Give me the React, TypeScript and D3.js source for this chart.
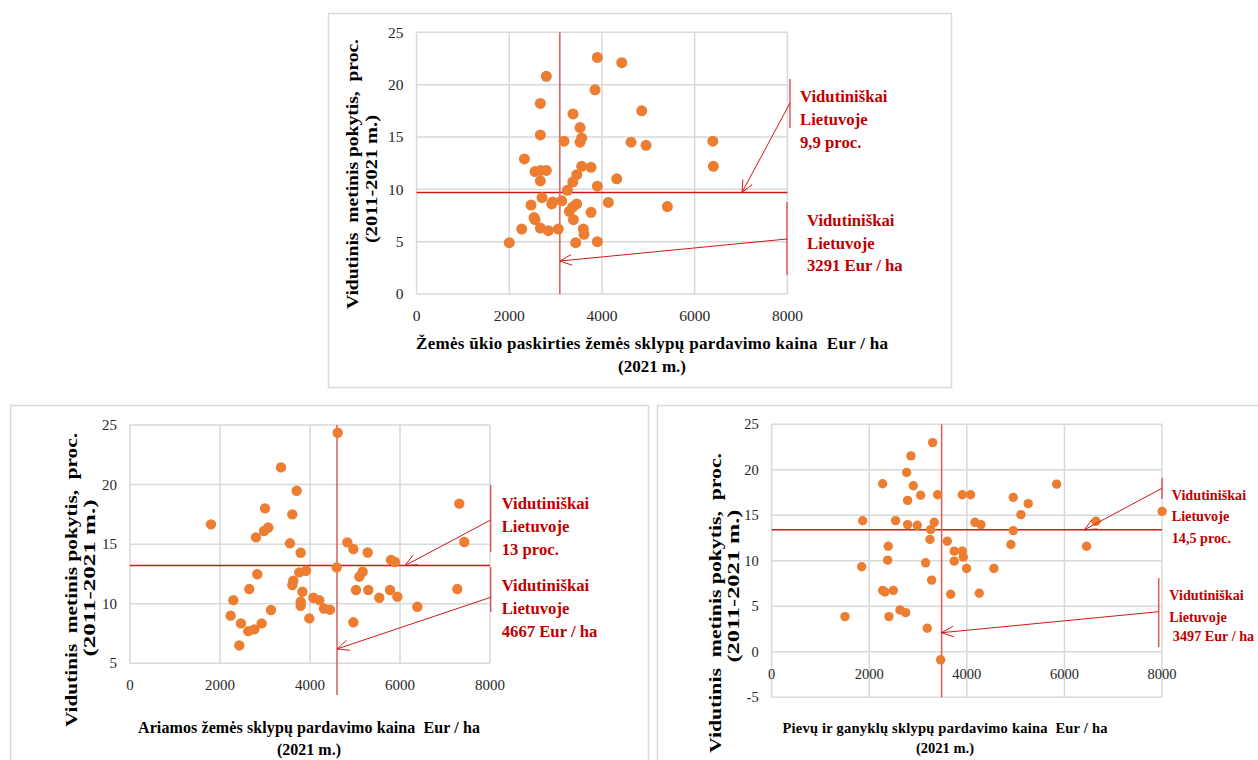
import React from 'react';
import * as d3 from 'd3';

// price (Eur/ha, 2021) vs mean annual change (%, 2011-2021), one point per municipality
const farmPoints: [number, number][] = [
  [3899, 22.6], [4426, 22.1], [2799, 20.8], [3850, 19.5], [2670, 18.2], [3375, 17.2], [4857, 17.5],
  [3526, 15.9], [2670, 15.2], [3181, 14.6], [3526, 14.5], [3562, 14.9], [4627, 14.5], [4950, 14.2],
  [6390, 14.6], [6403, 12.2], [2325, 12.9], [2555, 11.7], [2678, 11.8], [2799, 11.8], [3562, 12.2],
  [3763, 12.1], [3455, 11.4], [3369, 10.7], [2670, 10.8], [3253, 9.9], [3899, 10.3], [4318, 11.0],
  [2469, 8.5], [2706, 9.2], [2915, 8.6], [2937, 8.8], [3131, 8.9], [3455, 8.6], [3369, 8.3],
  [3295, 7.9], [3382, 7.1], [2534, 7.3], [2555, 7.1], [2268, 6.2], [2670, 6.3], [2843, 6.05],
  [3058, 6.2], [3598, 6.2], [3613, 5.7], [2000, 4.9], [3433, 4.9], [3899, 5.0], [4137, 8.75],
  [5410, 8.35], [3763, 7.8],
];

const arablePoints: [number, number][] = [
  [1800, 16.66], [3000, 18.0], [2800, 15.57], [2978, 16.1], [3073, 16.4], [2829, 12.47], [2296, 10.3],
  [2237, 9.0], [2464, 8.35], [2629, 7.7], [2762, 7.85], [2926, 8.35], [2429, 6.5], [2651, 11.23],
  [3133, 9.47], [4615, 24.35], [3355, 21.44], [3704, 19.48], [3607, 17.5], [3555, 15.07], [3793, 14.28],
  [4829, 15.15], [4963, 14.59], [5282, 14.3], [5800, 13.67], [5888, 13.5], [7318, 18.4], [7429, 15.18],
  [4593, 13.05], [3761, 12.63], [3911, 12.77], [3630, 11.93], [3607, 11.57], [3830, 11.0], [3793, 10.17],
  [3793, 9.83], [4074, 10.5], [4207, 10.3], [4311, 9.6], [4444, 9.5], [3985, 8.77], [5096, 12.27],
  [5170, 12.68], [5022, 11.15], [5296, 11.15], [5540, 10.5], [5778, 11.15], [5940, 10.59], [6385, 9.75],
  [4963, 8.44], [7274, 11.23],
];

const pasturePoints: [number, number][] = [
  [1865, 14.4], [2274, 18.47], [2854, 21.53], [2766, 19.7], [2902, 18.25], [2786, 16.64], [2540, 14.42],
  [2786, 13.98], [2984, 13.9], [2389, 11.6], [2377, 10.07], [1844, 9.35], [3053, 17.2], [2274, 6.75],
  [2322, 6.57], [2492, 6.75], [1502, 3.87], [2404, 3.87], [2629, 4.6], [2746, 4.3], [3299, 22.99],
  [3401, 17.26], [3906, 17.26], [4077, 17.26], [5840, 18.43], [4951, 16.97], [5258, 16.28], [5108, 15.07],
  [8003, 15.43], [6645, 14.34], [4166, 14.23], [4289, 13.98], [3332, 14.23], [3258, 13.43], [3244, 12.34],
  [3599, 12.15], [3742, 11.06], [3906, 11.06], [3927, 10.4], [3742, 9.96], [4951, 13.32], [4903, 11.79],
  [6454, 11.6], [3155, 9.78], [3995, 9.16], [4555, 9.16], [3278, 7.88], [3668, 6.32], [4254, 6.43],
  [3189, 2.59], [3463, -0.88],
];

const priceTicks = [0, 2000, 4000, 6000, 8000];
const farmPctTicks = [0, 5, 10, 15, 20, 25];
const arablePctTicks = [5, 10, 15, 20, 25];
const pasturePctTicks = [-5, 0, 5, 10, 15, 20, 25];

// national averages as drawn: [price, pct]
const farmAvg = [3090, 9.7];
const arableAvg = [4600, 13.2];
const pastureAvg = [3483, 13.4];

// where the annotation arrows point: [price on pct line, pct on price line]
const farmArrowTo = [7020, 3.15];
const arableArrowTo = [6110, 6.2];
const pastureArrowTo = [6405, 2.1];

const farmPctLabel = ['Vidutiniškai', 'Lietuvoje', '9,9 proc.'];
const farmPriceLabel = ['Vidutiniškai', 'Lietuvoje', '3291 Eur / ha'];
const arablePctLabel = ['Vidutiniškai', 'Lietuvoje', '13 proc.'];
const arablePriceLabel = ['Vidutiniškai', 'Lietuvoje', '4667 Eur / ha'];
const pasturePctLabel = ['Vidutiniškai', 'Lietuvoje', '14,5 proc.'];
const pasturePriceLabel = ['Vidutiniškai', 'Lietuvoje', ' 3497 Eur / ha'];

const yTitle = ['Vidutinis  metinis pokytis,  proc.', '(2011-2021 m.)'];

const SERIF = '"Liberation Serif", "Times New Roman", serif';
const GRID = '#d9d9d9';
const DOT = '#ED7D31';
const RED_TEXT = '#C00000';
const RED_LINE = '#D01818';
const RED_SOFT = '#D95C5C';

function arrowPath(x1: number, y1: number, x2: number, y2: number, size = 13, spread = 0.42) {
  const a = Math.atan2(y1 - y2, x1 - x2);
  const p1 = [x2 + size * Math.cos(a + spread), y2 + size * Math.sin(a + spread)];
  const p2 = [x2 + size * Math.cos(a - spread), y2 + size * Math.sin(a - spread)];
  return `M${x1},${y1}L${x2},${y2}M${p1[0]},${p1[1]}L${x2},${y2}L${p2[0]},${p2[1]}`;
}

type Note = {
  lines: string[];
  barX: number;
  barY: [number, number];
  textX: number;
  textY: number[];
  from: [number, number];
};

type PanelProps = {
  points: [number, number][];
  yTicks: number[];
  xRange: [number, number];
  yRange: [number, number];
  yDomain: [number, number];
  xAxisAt: number;
  avg: number[];
  arrowTo: number[];
  vlineBottom: number;
  r: number;
  tickSize: number;
  noteSize: number;
  pctNote: Note;
  priceNote: Note;
  yTitlePos: { x: number[]; cy: number[]; len: number[]; size: number };
  xTitle: { lines: string[]; cx: number; y: number[]; len: number; size: number };
};

function Panel(p: PanelProps) {
  const x = d3.scaleLinear().domain([0, 8000]).range(p.xRange);
  const y = d3.scaleLinear().domain(p.yDomain).range(p.yRange);
  const [x0, x1] = p.xRange;
  const [yb, yt] = p.yRange;
  const axisY = y(p.xAxisAt);

  const note = (n: Note, to: [number, number], key: string) => (
    <g key={key}>
      <line x1={n.barX} x2={n.barX} y1={n.barY[0]} y2={n.barY[1]} stroke={RED_SOFT} strokeWidth={1.5} />
      <path d={arrowPath(n.from[0], n.from[1], to[0], to[1])} fill="none" stroke={RED_LINE} strokeWidth={1} />
      {n.lines.map((t, i) => (
        <text key={i} x={n.textX} y={n.textY[i]} dy="0.34em" fontFamily={SERIF} fontWeight="bold"
          fontSize={p.noteSize} fill={RED_TEXT} style={{ whiteSpace: 'pre' }}>{t}</text>
      ))}
    </g>
  );

  return (
    <g>
      {p.yTicks.map((t) => (
        <line key={'gy' + t} x1={x0} x2={x1} y1={y(t)} y2={y(t)} stroke={GRID} strokeWidth={1.5} />
      ))}
      {priceTicks.map((t) => (
        <line key={'gx' + t} x1={x(t)} x2={x(t)} y1={yb} y2={yt} stroke={GRID} strokeWidth={1.5} />
      ))}
      {p.yTicks.map((t) => (
        <text key={'ty' + t} x={x0 - 13} y={y(t)} dy="0.34em" textAnchor="end" fontFamily={SERIF}
          fontSize={p.tickSize} fill="#262626">{t}</text>
      ))}
      {priceTicks.map((t) => (
        <text key={'tx' + t} x={x(t)} y={axisY + 22} dy="0.34em" textAnchor="middle" fontFamily={SERIF}
          fontSize={p.tickSize} fill="#262626">{t}</text>
      ))}
      <line x1={x0} x2={x1} y1={y(p.avg[1])} y2={y(p.avg[1])} stroke={RED_LINE} strokeWidth={1.5} />
      <line x1={x(p.avg[0])} x2={x(p.avg[0])} y1={yt} y2={p.vlineBottom} stroke={RED_SOFT} strokeWidth={1.5} />
      {p.points.map((d, i) => (
        <circle key={i} cx={x(d[0])} cy={y(d[1])} r={p.r} fill={DOT} />
      ))}
      {note(p.pctNote, [x(p.arrowTo[0]), y(p.avg[1])], 'n1')}
      {note(p.priceNote, [x(p.avg[0]), y(p.arrowTo[1])], 'n2')}
      {yTitle.map((t, i) => (
        <text key={'yt' + i} transform={`translate(${p.yTitlePos.x[i]},${p.yTitlePos.cy[i]}) rotate(-90)`}
          textAnchor="middle" dy="0.34em" fontFamily={SERIF} fontWeight="bold" fontSize={p.yTitlePos.size}
          textLength={p.yTitlePos.len[i]} lengthAdjust="spacingAndGlyphs" fill="#000"
          style={{ whiteSpace: 'pre' }}>{t}</text>
      ))}
      {p.xTitle.lines.map((t, i) => (
        <text key={'xt' + i} x={p.xTitle.cx} y={p.xTitle.y[i]} dy="0.34em" textAnchor="middle"
          fontFamily={SERIF} fontWeight="bold" fontSize={p.xTitle.size}
          textLength={i === 0 ? p.xTitle.len : undefined} lengthAdjust="spacing"
          fill="#000" style={{ whiteSpace: 'pre' }}>{t}</text>
      ))}
    </g>
  );
}

export default function App() {
  return (
    <svg width={1258} height={760} style={{ position: 'absolute', left: 0, top: 0, background: '#fff' }}>
      <rect x={328.5} y={13.5} width={623} height={374} fill="#fff" stroke={GRID} strokeWidth={1.5} />
      <rect x={10.5} y={405.5} width={638} height={370} fill="#fff" stroke={GRID} strokeWidth={1.5} />
      <rect x={657.5} y={405.5} width={620} height={370} fill="#fff" stroke={GRID} strokeWidth={1.5} />

      <Panel
        points={farmPoints}
        yTicks={farmPctTicks}
        xRange={[416.6, 787.4]}
        yRange={[294, 32.3]}
        yDomain={[0, 25]}
        xAxisAt={0}
        avg={farmAvg}
        arrowTo={farmArrowTo}
        vlineBottom={294}
        r={5.5}
        tickSize={15.5}
        noteSize={16.7}
        pctNote={{ lines: farmPctLabel, barX: 790, barY: [79, 128], textX: 800, textY: [96, 119, 142], from: [790, 103] }}
        priceNote={{ lines: farmPriceLabel, barX: 787, barY: [202, 275], textX: 807, textY: [220, 243, 265.5], from: [787, 239] }}
        yTitlePos={{ x: [352, 371], cy: [174, 179], len: [270, 128], size: 17 }}
        xTitle={{ lines: ['Žemės ūkio paskirties žemės sklypų pardavimo kaina  Eur / ha', '(2021 m.)'], cx: 652, y: [343, 366], len: 472, size: 17 }}
      />

      <Panel
        points={arablePoints}
        yTicks={arablePctTicks}
        xRange={[130, 490]}
        yRange={[663.3, 425]}
        yDomain={[5, 25]}
        xAxisAt={5}
        avg={arableAvg}
        arrowTo={arableArrowTo}
        vlineBottom={695}
        r={5.2}
        tickSize={15}
        noteSize={16.7}
        pctNote={{ lines: arablePctLabel, barX: 490.7, barY: [485, 552], textX: 501.7, textY: [503.3, 526.7, 549], from: [490.7, 520] }}
        priceNote={{ lines: arablePriceLabel, barX: 490.7, barY: [567, 612], textX: 501.7, textY: [585, 608, 631], from: [490.7, 597.3] }}
        yTitlePos={{ x: [71, 89], cy: [580, 578], len: [294, 157], size: 17.5 }}
        xTitle={{ lines: ['Ariamos žemės sklypų pardavimo kaina  Eur / ha', '(2021 m.)'], cx: 309, y: [728, 750], len: 342, size: 16 }}
      />

      <Panel
        points={pasturePoints}
        yTicks={pasturePctTicks}
        xRange={[771.7, 1162]}
        yRange={[697.3, 424.3]}
        yDomain={[-5, 25]}
        xAxisAt={0}
        avg={pastureAvg}
        arrowTo={pastureArrowTo}
        vlineBottom={697.3}
        r={4.7}
        tickSize={14.5}
        noteSize={14.2}
        pctNote={{ lines: pasturePctLabel, barX: 1162, barY: [478, 499], textX: 1171.7, textY: [495.3, 516, 538], from: [1162, 488.3] }}
        priceNote={{ lines: pasturePriceLabel, barX: 1158.7, barY: [578, 647], textX: 1169.3, textY: [595, 616.7, 636], from: [1158.7, 611.7] }}
        yTitlePos={{ x: [715, 733], cy: [603, 586], len: [300, 153], size: 17 }}
        xTitle={{ lines: ['Pievų ir ganyklų sklypų pardavimo kaina  Eur / ha', '(2021 m.)'], cx: 945, y: [728, 748], len: 325, size: 14.5 }}
      />
    </svg>
  );
}
